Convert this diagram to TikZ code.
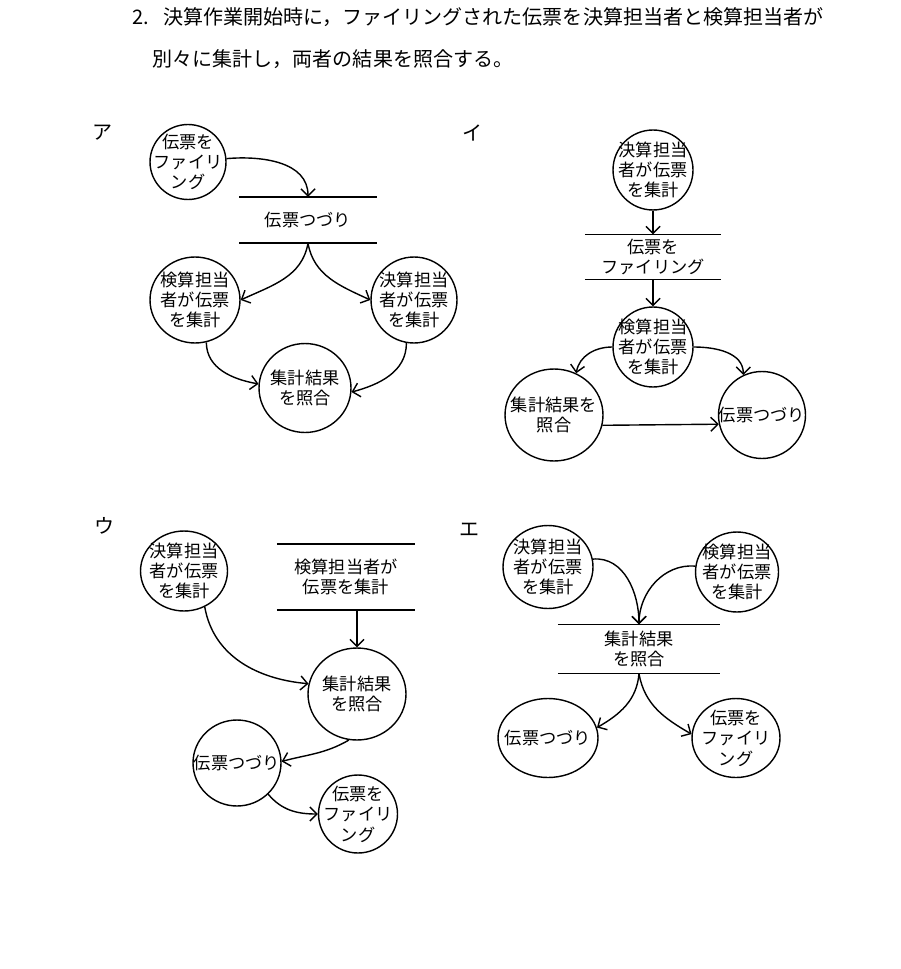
\documentclass[tikz,border=0pt]{standalone}
\usepackage{fontspec}
\setmainfont{Noto Sans CJK JP}
\usetikzlibrary{arrows.meta}
\usetikzlibrary{shapes.geometric}

\begin{document}
\begin{tikzpicture}[x=0.02cm, y=-0.02cm, thick,
    >={Straight Barb[length=4pt,width=8pt]},
    proc/.style={ellipse, draw, align=center, inner sep=-20pt, font=\fontsize{9.8pt}{11.6pt}\selectfont},
    store/.style={align=center, inner sep=0pt, font=\fontsize{9.8pt}{11.6pt}\selectfont},
    tag/.style={inner sep=0pt, font=\fontsize{11.4pt}{13pt}\selectfont}]
\useasboundingbox (0,0) rectangle (900,969);
% question
\node[tag, anchor=west] (q1) at (132,17) {2.\hspace{0.7em}決算作業開始時に，ファイリングされた伝票を決算担当者と検算担当者が};
\node[tag, anchor=west] (q2) at (152,59) {別々に集計し，両者の結果を照合する。};
\node[tag] (la) at (103,133) {ア};
\node[tag] (lb) at (473,133) {イ};
\node[tag] (lc) at (105,526) {ウ};
\node[tag] (ld) at (470,530) {エ};
% ア
\node[proc, minimum width=1.52cm, minimum height=1.5cm] (a1) at (188,162) {伝票を\\ファイリ\\ング};
\node[store, minimum width=2.72cm, minimum height=0.9cm] (a2) at (308,220) {伝票つづり};
\draw (a2.north west)--(a2.north east) (a2.south west)--(a2.south east);
\node[proc, minimum width=1.8cm, minimum height=1.72cm] (a3) at (195,300) {検算担当\\者が伝票\\を集計};
\node[proc, minimum width=1.72cm, minimum height=1.72cm] (a4) at (414,300) {決算担当\\者が伝票\\を集計};
\node[proc, minimum width=1.84cm, minimum height=1.78cm] (a5) at (305,388) {集計結果\\を照合};
\draw[->] (a1.5) to[out=5,in=90] (a2.north);
\draw[->] (a2.south) to[out=-100,in=25] (a3.0);
\draw[->] (a2.south) to[out=-80,in=155] (a4.180);
\draw[->] (a3.-75) to[out=-90,in=170] (a5.175);
\draw[->] (a4.-100) to[out=-90,in=15] (a5.-5);
% イ
\node[proc, minimum width=1.6cm, minimum height=1.6cm] (b1) at (653,170) {決算担当\\者が伝票\\を集計};
\node[store, minimum width=2.7cm, minimum height=0.88cm] (b2) at (653,257) {伝票を\\ファイリング};
\draw (b2.north west)--(b2.north east) (b2.south west)--(b2.south east);
\node[proc, minimum width=1.6cm, minimum height=1.6cm] (b3) at (653,347) {検算担当\\者が伝票\\を集計};
\node[proc, minimum width=1.96cm, minimum height=1.84cm] (b4) at (554,415) {集計結果を\\照合};
\node[proc, minimum width=1.74cm, minimum height=1.74cm] (b5) at (762,415) {伝票つづり};
\draw[->] (b1) -- (b2.north);
\draw[->] (b2.south) -- (b3);
\draw[->] (b3.180) to[out=180,in=80] (b4.62);
\draw[->] (b3.0) to[out=0,in=90] (b5.115);
\draw[->] (b4.-12) -- (b5.192);
% ウ
\node[proc, minimum width=1.74cm, minimum height=1.6cm] (c1) at (184,571) {決算担当\\者が伝票\\を集計};
\node[store, minimum width=2.74cm, minimum height=1.3cm] (c2) at (346,577) {検算担当者が\\伝票を集計};
\draw (c2.north west)--(c2.north east) (c2.south west)--(c2.south east);
\node[proc, minimum width=1.96cm, minimum height=1.84cm] (c3) at (357,694) {集計結果\\を照合};
\node[proc, minimum width=1.76cm, minimum height=1.72cm] (c4) at (237,763) {伝票つづり};
\node[proc, minimum width=1.58cm, minimum height=1.56cm] (c5) at (358,814) {伝票を\\ファイリ\\ング};
\draw[->] (c3.north |- c2.south) -- (c3.north);
\draw[->] (c1.-60) to[out=-80,in=175] (c3.168);
\draw[->] (c3.-100) to[out=-150,in=15] (c4.2);
\draw[->] (c4.-45) to[out=-50,in=180] (c5.180);
% エ
\node[proc, minimum width=1.8cm, minimum height=1.66cm] (d1) at (548,567) {決算担当\\者が伝票\\を集計};
\node[proc, minimum width=1.66cm, minimum height=1.6cm] (d2) at (737,572) {検算担当\\者が伝票\\を集計};
\node[store, minimum width=3.22cm, minimum height=0.96cm] (d3) at (639,649) {集計結果\\を照合};
\draw (d3.north west)--(d3.north east) (d3.south west)--(d3.south east);
\node[proc, minimum width=2.0cm, minimum height=1.58cm] (d4) at (548,738) {伝票つづり};
\node[proc, minimum width=1.76cm, minimum height=1.58cm] (d5) at (736,738) {伝票を\\ファイリ\\ング};
\draw[->] (d1.10) to[out=5,in=90] (d3.north);
\draw[->] (d2.172) to[out=175,in=90] (d3.north);
\draw[->] (d3.south) to[out=-95,in=30] (d4.12);
\draw[->] (d3.south) to[out=-80,in=150] (d5.175);
\end{tikzpicture}
\end{document}
